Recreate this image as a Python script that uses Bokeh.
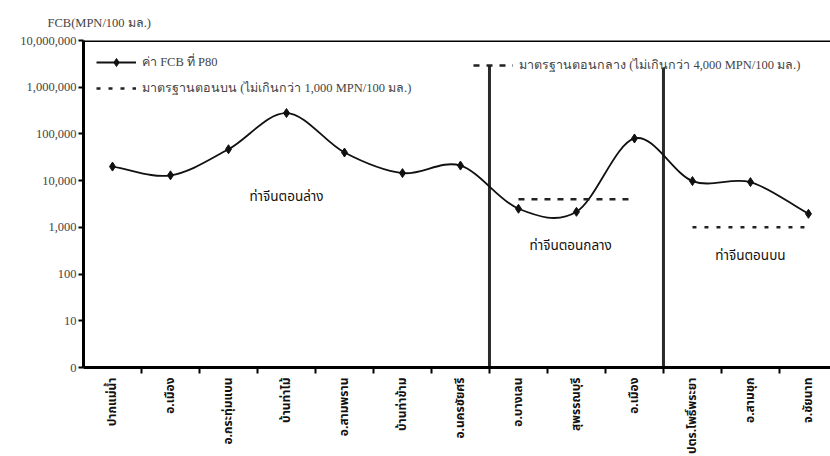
import numpy as np
from bokeh.plotting import figure
from bokeh.models import (FixedTicker, Span, Legend, LegendItem, ColumnDataSource, Label)
from bokeh.embed import file_html
from bokeh.resources import INLINE

# ---------------- data ----------------
stations = ["ปากแม่น้ำ", "อ.เมือง", "อ.กระทุ่มแบน", "บ้านท่าไม้", "อ.สามพราน",
            "บ้านท่าข้าม", "อ.นครชัยศรี", "อ.บางเลน", "สุพรรณบุรี", "อ.เมือง",
            "ปตร.โพธิ์พระยา", "อ.สามชุก", "จ.ชัยนาท"]
fcb_p80 = [20000, 13000, 47000, 280000, 40000, 14500, 21000,
           2500, 2150, 80000, 9800, 9300, 1950]

section_names = ["ท่าจีนตอนล่าง", "ท่าจีนตอนกลาง", "ท่าจีนตอนบน"]
section_first_station = [1, 8, 11]
section_label_x = [4.0, 8.9, 12.0]
section_label_y = [4500, 390, 240]
separator_top = [3.0e6, 2.6e6]

std_mid_value = 4000
std_mid_stations = [8, 10]
std_up_value = 1000
std_up_stations = [11, 13]

y_ticks = [1, 10, 100, 1000, 10000, 100000, 1000000, 10000000]
y_tick_labels = ["0", "10", "100", "1,000", "10,000", "100,000", "1,000,000", "10,000,000"]

legend_p80 = "ค่า FCB ที่ P80"
legend_up = "มาตรฐานตอนบน (ไม่เกินกว่า 1,000 MPN/100 มล.)"
legend_mid = "มาตรฐานตอนกลาง (ไม่เกินกว่า 4,000 MPN/100 มล.)"
y_title = "FCB(MPN/100 มล.)"

SERIF = "Liberation Serif"
THAI = "Noto Sans Thai, Noto Sans, sans-serif"

# ---------------- figure ----------------
xs = np.arange(1, len(stations) + 1, dtype=float)
p = figure(width=830, height=456, x_range=(0.5, 13.38), y_range=(1, 1e7),
           y_axis_type="log", output_backend="svg", toolbar_location=None,
           min_border_left=83, min_border_top=40, min_border_bottom=86,
           min_border_right=0)
p.outline_line_color = None
p.grid.grid_line_color = None
p.background_fill_color = "white"

p.title.text = y_title
p.title.align = "left"
p.title.offset = -36
p.title.text_font = SERIF
p.title.text_font_size = "12.5px"
p.title.text_font_style = "normal"
p.title.standoff = 22

# y axis
ya = p.yaxis[0]
ya.ticker = FixedTicker(ticks=y_ticks)
ya.major_label_overrides = {t: l for t, l in zip(y_ticks, y_tick_labels)}
ya.axis_line_width = 3
ya.axis_line_color = "black"
ya.major_tick_out = 5
ya.major_tick_in = 0
ya.major_tick_line_width = 2
ya.minor_tick_line_color = None
ya.major_label_text_font = SERIF
ya.major_label_text_font_size = "12.5px"
ya.major_label_standoff = 2

# x axis: labels at station centres, tick marks at boundaries (minor ticks)
boundaries = [b + 0.5 for b in xs[:-1]]
xa = p.xaxis[0]
xa.ticker = FixedTicker(ticks=list(xs), minor_ticks=boundaries)
xa.major_label_overrides = {float(x): s for x, s in zip(xs, stations)}
xa.major_label_orientation = np.pi / 2
xa.major_label_text_font = THAI
xa.major_label_text_font_size = "12px"
xa.major_label_text_font_style = "bold"
xa.major_label_text_color = "#111111"
xa.major_label_standoff = 4
xa.axis_line_width = 3
xa.axis_line_color = "black"
xa.major_tick_line_color = None
xa.major_tick_out = 4
xa.minor_tick_out = 6
xa.minor_tick_in = 0
xa.minor_tick_line_width = 2
xa.minor_tick_line_color = "black"

# top border line
p.add_layout(Span(location=y_ticks[-1], dimension="width", line_color="black", line_width=3))

# section separators
for first, top in zip(section_first_station[1:], separator_top):
    p.segment(x0=[first - 0.5], y0=[y_ticks[0]], x1=[first - 0.5], y1=[top],
              line_color="#2a2a2a", line_width=3)

# smooth curve (Catmull-Rom -> cubic Bezier in log space)
ly = np.log10(np.array(fcb_p80, dtype=float))
n = len(xs)
px = np.concatenate([[2 * xs[0] - xs[1]], xs, [2 * xs[-1] - xs[-2]]])
py = np.concatenate([[2 * ly[0] - ly[1]], ly, [2 * ly[-1] - ly[-2]]])
i = np.arange(1, n)
cx0 = px[i] + (px[i + 1] - px[i - 1]) / 6
cy0 = py[i] + (py[i + 1] - py[i - 1]) / 6
cx1 = px[i + 1] - (px[i + 2] - px[i]) / 6
cy1 = py[i + 1] - (py[i + 2] - py[i]) / 6
bez = ColumnDataSource(dict(x0=xs[:-1], y0=np.array(fcb_p80[:-1], float),
                            x1=xs[1:], y1=np.array(fcb_p80[1:], float),
                            cx0=cx0, cy0=10 ** cy0, cx1=cx1, cy1=10 ** cy1))
p.bezier(x0="x0", y0="y0", x1="x1", y1="y1", cx0="cx0", cy0="cy0",
         cx1="cx1", cy1="cy1", source=bez, line_color="#111111", line_width=1.8)
pts = p.scatter(xs, fcb_p80, marker="diamond", size=9, color="#111111")
# one-point line: draws nothing on the plot, only gives the legend its line
line_key = p.line(x=xs[:1], y=fcb_p80[:1], line_color="#111111", line_width=1.8)

# standards
up = p.line(x=std_up_stations, y=[std_up_value] * 2, line_color="#222222",
            line_width=2.5, line_dash="4 8")
mid = p.line(x=std_mid_stations, y=[std_mid_value] * 2, line_color="#222222",
             line_width=2.5, line_dash="6 7")

# section labels
for name, sx, sy in zip(section_names, section_label_x, section_label_y):
    p.add_layout(Label(x=sx, y=sy, text=name, text_align="center", text_baseline="middle",
                       text_font=THAI, text_font_size="13.5px", text_color="#111111"))

# legends
def mk_legend(items, loc):
    return Legend(items=items, location=loc, orientation="vertical",
                  border_line_color=None, background_fill_alpha=0,
                  padding=5, margin=0, spacing=6, glyph_width=40, glyph_height=20,
                  label_height=20, label_standoff=6,
                  label_text_font=SERIF, label_text_font_size="12.5px")

lg1 = mk_legend([LegendItem(label=legend_p80, renderers=[line_key, pts]),
                 LegendItem(label=legend_up, renderers=[up])], (13, 269))
lg2 = mk_legend([LegendItem(label=legend_mid, renderers=[mid])], (390, 292))
p.add_layout(lg1)
p.add_layout(lg2)

open("out.html", "w").write(file_html(p, INLINE))
